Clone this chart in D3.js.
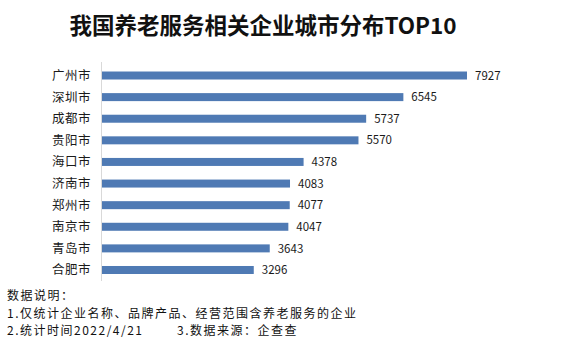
<!DOCTYPE html>
<html>
<head>
<meta charset="utf-8">
<script src="https://cdn.jsdelivr.net/npm/d3@7"></script>
<style>
  html, body { margin: 0; padding: 0; background: #fff; }
  svg { display: block; }
  text { font-family: "Noto Sans CJK SC", "Noto Sans", sans-serif; }
</style>
</head>
<body>
<svg id="chart" width="562" height="342"></svg>
<script>
// Cities ranked by number of elderly-care related companies
const cities = ["广州市", "深圳市", "成都市", "贵阳市", "海口市", "济南市", "郑州市", "南京市", "青岛市", "合肥市"];
const counts = [7927, 6545, 5737, 5570, 4378, 4083, 4077, 4047, 3643, 3296];

const title = "我国养老服务相关企业城市分布TOP10";
const notes = [
  "数据说明：",
  "1.仅统计企业名称、品牌产品、经营范围含养老服务的企业"
];
const noteDate = "2.统计时间2022/4/21";
const noteSource = "3.数据来源：企查查";

const svg = d3.select("#chart");
const W = 562, H = 342;

svg.append("rect").attr("width", W).attr("height", H).attr("fill", "#fff");

// Title
svg.append("text")
  .attr("x", 263).attr("y", 34)
  .attr("text-anchor", "middle")
  .attr("font-size", 22.5)
  .attr("font-weight", "bold")
  .attr("fill", "#111")
  .text(title);

const x = d3.scaleLinear().domain([0, 7927]).range([102, 467]);
const y = d3.scaleBand()
  .domain(cities)
  .range([64.7, 280.8])
  .paddingInner(0.63)
  .paddingOuter(0.315);

// Category axis line
svg.append("line")
  .attr("x1", 101.5).attr("x2", 101.5)
  .attr("y1", 62).attr("y2", 281)
  .attr("stroke", "#d9d9d9").attr("stroke-width", 1);

const data = cities.map((c, i) => ({ city: c, value: counts[i] }));

svg.append("g").selectAll("rect")
  .data(data).join("rect")
  .attr("x", x(0))
  .attr("y", d => y(d.city))
  .attr("width", d => x(d.value) - x(0))
  .attr("height", y.bandwidth())
  .attr("fill", "#4f7ab4");

// City labels
svg.append("g").selectAll("text")
  .data(data).join("text")
  .attr("x", 91)
  .attr("y", d => y(d.city) + y.bandwidth() / 2)
  .attr("dy", "0.36em")
  .attr("text-anchor", "end")
  .attr("font-size", 12.5)
  .attr("letter-spacing", 0.5)
  .attr("fill", "#1a1a1a")
  .text(d => d.city);

// Value labels
svg.append("g").selectAll("text")
  .data(data).join("text")
  .attr("x", d => x(d.value) + 8)
  .attr("y", d => y(d.city) + y.bandwidth() / 2)
  .attr("dy", "0.36em")
  .attr("font-size", 11.5)
  .attr("fill", "#1a1a1a")
  .text(d => d.value);

// Footnotes
const foot = svg.append("g").attr("font-size", 12).attr("letter-spacing", 1.5).attr("fill", "#111");
foot.append("text").attr("x", 7).attr("y", 300).text(notes[0]);
foot.append("text").attr("x", 7).attr("y", 317.5).text(notes[1]);
foot.append("text").attr("x", 7).attr("y", 335).text(noteDate);
foot.append("text").attr("x", 177).attr("y", 335).text(noteSource);
</script>
</body>
</html>
